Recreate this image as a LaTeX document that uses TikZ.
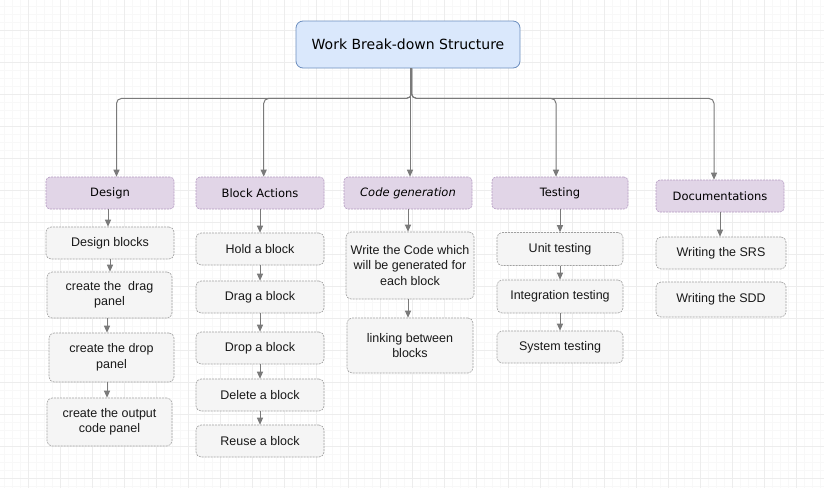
\documentclass[tikz,border=0pt]{standalone}
\usepackage{fontspec}
\setmainfont{Liberation Sans}
\newfontfamily\comicf{DejaVu Sans}
\usetikzlibrary{arrows.meta}
\definecolor{rootfill}{HTML}{DAE8FC}
\definecolor{rootdraw}{HTML}{6C8EBF}
\definecolor{hfill}{HTML}{E1D5E7}
\definecolor{hdraw}{HTML}{B49AC2}
\definecolor{cfill}{HTML}{F5F5F5}
\definecolor{cdraw}{HTML}{A0A0A0}
\definecolor{edgec}{HTML}{7A7A7A}
\definecolor{gmaj}{HTML}{EDEDED}
\definecolor{gmin}{HTML}{F8F8F8}
\begin{document}
\begin{tikzpicture}[x=1pt,y=-1pt,
  rootbox/.style={draw=rootdraw, fill=rootfill, rounded corners=7pt, line width=0.8pt,
    minimum width=224pt, minimum height=47pt, inner sep=0pt,
    font=\comicf\fontsize{14}{16}\selectfont},
  hbox/.style={draw=hdraw, fill=hfill, dash pattern=on 2pt off 1pt, rounded corners=4pt,
    line width=0.6pt, minimum height=32pt, inner sep=0pt,
    font=\comicf\fontsize{11.5}{14}\selectfont},
  cbox/.style={draw=cdraw, fill=cfill, dash pattern=on 2pt off 1pt, rounded corners=5pt,
    line width=0.6pt, inner sep=0pt, align=center,
    font=\fontsize{12.5}{15.5}\selectfont, text=black!90},
  edge/.style={draw=edgec, line width=1pt, -{Triangle[length=7pt,width=6pt]}, rounded corners=5pt},
  gminor/.style={draw=gmin, line width=0.6pt},
  gmajor/.style={draw=gmaj, line width=0.8pt},
]
\useasboundingbox (0,0) rectangle (824,488);
\fill[white] (0,0) rectangle (824,488);
% grid
\foreach \x in {4,12,...,820} \draw[gminor] (\x,0) -- (\x,488);
\foreach \y in {6,14,...,486} \draw[gminor] (0,\y) -- (824,\y);
\foreach \x in {28,60,...,820} \draw[gmajor] (\x,0) -- (\x,488);
\foreach \y in {30,62,...,486} \draw[gmajor] (0,\y) -- (824,\y);

% root
\node[rootbox] (root) at (408,44.5) {Work Break-down Structure};

% headers
\node[hbox, minimum width=128pt] (hdesign) at (110,193) {Design};
\node[hbox, minimum width=128pt] (hblock) at (260,193) {Block Actions};
\node[hbox, minimum width=128pt] (hcode) at (408,193) {\itshape Code generation};
\node[hbox, minimum width=136pt] (htest) at (560,193) {Testing};
\node[hbox, minimum width=128pt] (hdoc) at (720,196) {Documentations};

% design children
\node[cbox, minimum width=128pt, minimum height=32pt] (d1) at (110,243) {Design blocks};
\node[cbox, minimum width=125pt, minimum height=46pt] (d2) at (109.5,295) {create the~ drag\\panel};
\node[cbox, minimum width=125pt, minimum height=49pt] (d3) at (111.5,357.5) {create the drop\\panel};
\node[cbox, minimum width=125pt, minimum height=48pt] (d4) at (109.5,422) {create the output\\code panel};

% block actions children
\node[cbox, minimum width=128pt, minimum height=32pt] (b1) at (260,249) {Hold a block};
\node[cbox, minimum width=128pt, minimum height=32pt] (b2) at (260,297) {Drag a block};
\node[cbox, minimum width=128pt, minimum height=32pt] (b3) at (260,348) {Drop a block};
\node[cbox, minimum width=128pt, minimum height=32pt] (b4) at (260,395) {Delete a block};
\node[cbox, minimum width=128pt, minimum height=32pt] (b5) at (260,441) {Reuse a block};

% code generation children
\node[cbox, minimum width=128pt, minimum height=67pt] (c1) at (410,265.5) {Write the Code which\\will be generated for\\each block};
\node[cbox, minimum width=126pt, minimum height=55pt] (c2) at (410,345.5) {linking between\\blocks};

% testing children
\node[cbox, minimum width=126pt, minimum height=33pt] (t1) at (560,249) {Unit testing};
\node[cbox, minimum width=126pt, minimum height=33pt] (t2) at (560,296.5) {Integration testing};
\node[cbox, minimum width=126pt, minimum height=32pt] (t3) at (560,347) {System testing};

% documentation children
\node[cbox, minimum width=130pt, minimum height=32pt] (s1) at (721,253) {Writing the SRS};
\node[cbox, minimum width=130pt, minimum height=35pt] (s2) at (721,299.5) {Writing the SDD};

% root edges
\draw[edge] ([xshift=3.5pt]root.south) -- ++(0,30) -| ([xshift=6.5pt]hdesign.north);
\draw[edge] ([xshift=3.5pt]root.south) -- ++(0,30) -| ([xshift=3.7pt]hblock.north);
\draw[edge] ([xshift=2pt]root.south) -- ([xshift=2pt]hcode.north);
\draw[edge] ([xshift=3.5pt]root.south) -- ++(0,30) -| ([xshift=-4pt]htest.north);
\draw[edge] ([xshift=3.5pt]root.south) -- ++(0,30) -| ([xshift=-6pt]hdoc.north);

% design edges
\draw[edge] ([xshift=-2pt]hdesign.south) -- ([xshift=-2pt]hdesign.south |- d1.north);
\draw[edge] (d1.south) -- (d1.south |- d2.north);
\draw[edge] ([xshift=-2.5pt]d2.south) -- ([xshift=-2.5pt]d2.south |- d3.north);
\draw[edge] ([xshift=-4.5pt]d3.south) -- ([xshift=-4.5pt]d3.south |- d4.north);

% block edges
\draw[edge] (hblock.south) -- (b1.north);
\draw[edge] (b1.south) -- (b2.north);
\draw[edge] (b2.south) -- (b3.north);
\draw[edge] (b3.south) -- (b4.north);
\draw[edge] (b4.south) -- (b5.north);

% code edges
\draw[edge] (hcode.south) -- (hcode.south |- c1.north);
\draw[edge] (c1.south -| hcode.south) -- (hcode.south |- c2.north);

% testing edges
\draw[edge] (htest.south) -- (t1.north);
\draw[edge] (t1.south) -- (t2.north);
\draw[edge] (t2.south) -- (t3.north);

% documentation edge
\draw[edge] (hdoc.south) -- (hdoc.south |- s1.north);
\end{tikzpicture}
\end{document}
